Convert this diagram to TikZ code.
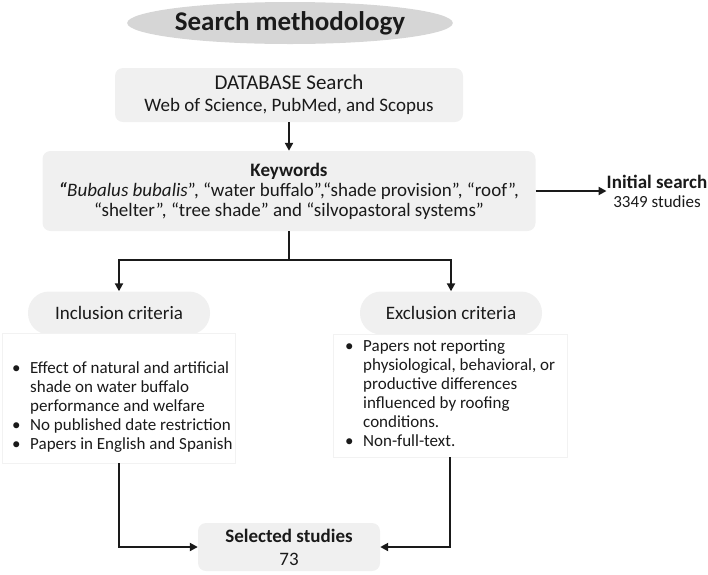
\documentclass[tikz,border=0pt]{standalone}
\usepackage{fontspec}
\setmainfont{Carlito}
\usetikzlibrary{shapes.geometric,arrows.meta}
\definecolor{boxgray}{HTML}{F0F0F0}
\definecolor{titlegray}{HTML}{D6D6D6}
\definecolor{edgegray}{HTML}{F2F2F2}
\definecolor{ink}{HTML}{1A1A1A}
\tikzset{
  gbox/.style={rectangle, rounded corners=8pt, fill=boxgray, inner sep=0pt, align=center, text=ink},
  pill/.style={rectangle, rounded corners=21pt, fill=boxgray, inner sep=0pt, minimum width=182pt, minimum height=43pt, text=ink, font=\fontsize{19}{22}\selectfont},
  critbox/.style={rectangle, draw=edgegray, line width=0.8pt, fill=white, inner sep=0pt},
  conn/.style={line width=2pt, draw=ink},
  arr/.style={conn, -{Triangle[length=8pt,width=8pt]}},
  crit/.style={inner sep=0pt, anchor=west, text=ink, font=\fontsize{17}{19}\selectfont}
}
\begin{document}
\begin{tikzpicture}[x=1pt,y=-1pt]
\path[use as bounding box] (0,0) rectangle (708,574);
% title
\node[ellipse, fill=titlegray, minimum width=300pt, minimum height=42pt, inner sep=0pt, text=ink,
      font=\fontsize{27}{30}\selectfont\bfseries] (title) at (290,23) {Search methodology};
% database
\node[gbox, minimum width=348pt, minimum height=54pt, font=\fontsize{19}{22}\selectfont] (db) at (289,95)
  {{\fontsize{21}{22}\selectfont DATABASE Search}\\Web of Science, PubMed, and Scopus};
% keywords
\node[gbox, minimum width=493pt, minimum height=80pt, font=\fontsize{19}{20}\selectfont] (kw) at (289,191)
  {\textbf{Keywords}\\
   {\bfseries\itshape “}\textit{Bubalus bubalis}”, “water buffalo”,“shade provision”, “roof”,\\
   “shelter”, “tree shade” and “silvopastoral systems”};
% initial search
\node[inner sep=0pt, align=center, text=ink, font=\fontsize{17}{19}\selectfont] (init) at (657,191)
  {{\fontsize{19}{19}\selectfont\bfseries Initial search}\\3349 studies};
% pills
\node[pill] (ipill) at (119,313) {Inclusion criteria};
\node[pill] (epill) at (451,313) {Exclusion criteria};
% criteria boxes
\node[critbox, minimum width=233pt, minimum height=130pt] (ibox) at (118.5,398) {};
\node[critbox, minimum width=234pt, minimum height=123pt] (ebox) at (450,395.5) {};
\node[crit] (itext) at (12,408)
  {\begin{tabular}{@{}p{18pt}@{}l@{}}
   • & Effect of natural and artificial\\
     & shade on water buffalo\\
     & performance and welfare\\
   • & No published date restriction\\
   • & Papers in English and Spanish
   \end{tabular}};
\node[crit] (etext) at (345,395.5)
  {\begin{tabular}{@{}p{18pt}@{}l@{}}
   • & Papers not reporting\\
     & physiological, behavioral, or\\
     & productive differences\\
     & influenced by roofing\\
     & conditions.\\
   • & Non-full-text.
   \end{tabular}};
% selected
\node[gbox, minimum width=182pt, minimum height=48pt, font=\fontsize{19}{23}\selectfont] (sel) at (289,547)
  {\textbf{Selected studies}\\73};
% connectors
\coordinate (sp) at (289,260);
\draw[arr] (db) -- (kw);
\draw[arr] (kw.east) -- (init.west);
\draw[conn] (kw.south) -- (sp);
\draw[arr] (sp) -| (ipill.north);
\draw[arr] (sp) -| (epill.north);
\draw[arr] (ibox.south) |- (sel.west);
\draw[arr] (ebox.south) |- (sel.east);
\end{tikzpicture}
\end{document}
